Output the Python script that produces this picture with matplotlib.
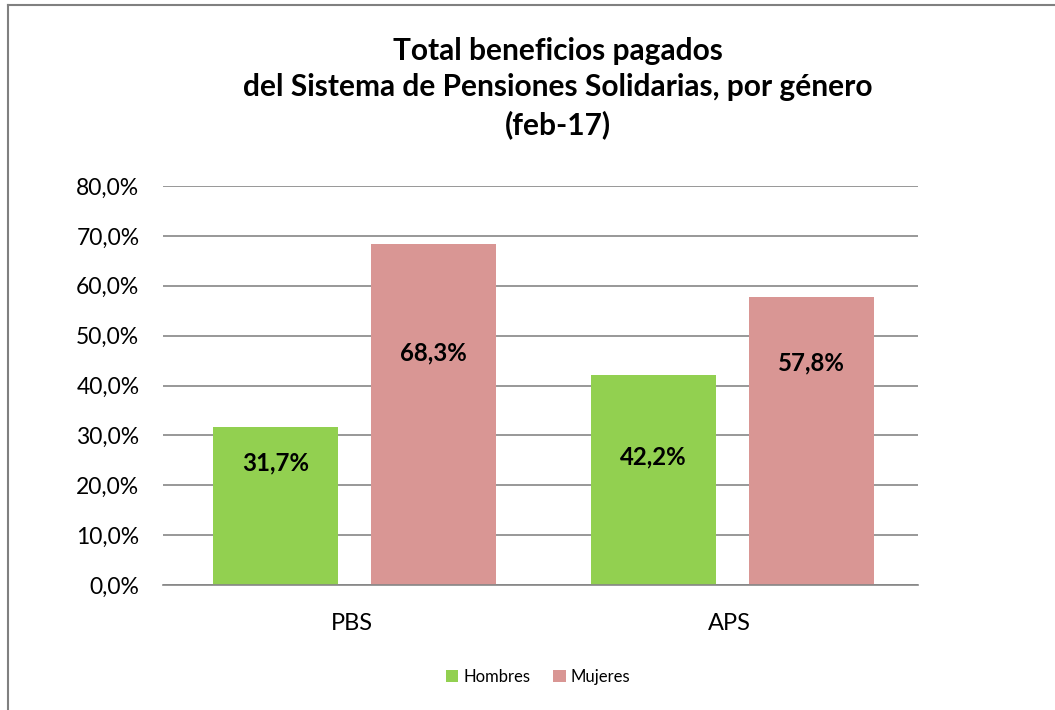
import matplotlib.pyplot as plt
import numpy as np
from matplotlib.lines import Line2D

plt.rcParams["font.family"] = ["Lato", "DejaVu Sans"]

categories = ["PBS", "APS"]
hombres = [31.7, 42.2]
mujeres = [68.3, 57.8]
series_names = ["Hombres", "Mujeres"]
yticks = [0, 10, 20, 30, 40, 50, 60, 70, 80]

# where the data labels sit in the reference (y in axis units)
label_y_hombres = [24.4, 25.7]
label_y_mujeres = [46.6, 44.6]

GREEN = "#92D050"
PINK = "#D99694"


def pct(v):
    return f"{v:.1f}%".replace(".", ",")


def main() -> None:
    fig = plt.figure(figsize=(10.55, 7.1), dpi=100)
    ax = fig.add_axes([163 / 1055, 1 - 585 / 710, (918 - 163) / 1055, (585 - 186) / 710])

    x = np.arange(len(categories))
    w = 0.331
    off = 0.209
    shift = 0.008
    b1 = ax.bar(x - off + shift, hombres, w, color=GREEN, label=series_names[0], zorder=2)
    b2 = ax.bar(x + off + shift, mujeres, w, color=PINK, label=series_names[1], zorder=2)

    for bars, vals, ys in ((b1, hombres, label_y_hombres), (b2, mujeres, label_y_mujeres)):
        for b, v, y in zip(bars, vals, ys):
            ax.text(b.get_x() + b.get_width() / 2, y, pct(v),
                    ha="center", va="center", fontsize=17.3, fontweight="bold",
                    color="black", zorder=3)

    ax.set_xlim(-0.5, 1.5)
    ax.set_ylim(0, 80)
    ax.set_yticks(yticks)
    ax.set_yticklabels([pct(v) for v in yticks], fontsize=16.5)
    ax.set_xticks(x)
    ax.set_xticklabels(categories, fontsize=17)
    ax.tick_params(axis="y", length=0, pad=17)
    ax.tick_params(axis="x", length=0, pad=20)
    ax.yaxis.grid(True, color="#868686", linewidth=1.2, zorder=0)
    for s in ("top", "right", "left"):
        ax.spines[s].set_visible(False)
    ax.spines["bottom"].set_color("#868686")
    ax.spines["bottom"].set_linewidth(1.2)

    fig.text(558 / 1055, 1 - 88 / 710,
             "Total beneficios pagados\ndel Sistema de Pensiones Solidarias, por género\n(feb-17)",
             ha="center", va="center", fontsize=21.5, fontweight="bold",
             linespacing=1.38)

    fig.legend(handles=[b1, b2], labels=series_names, loc="center",
               bbox_to_anchor=(538 / 1055, 1 - 677 / 710), ncol=2, frameon=False,
               fontsize=12, handlelength=0.75, handleheight=0.75,
               handletextpad=0.3, columnspacing=1.4)

    # chart border (only left and top visible in the reference crop)
    fig.add_artist(Line2D([8 / 1055, 8 / 1055], [0, 1 - 4.5 / 710],
                          transform=fig.transFigure, color="#808080", linewidth=1.5))
    fig.add_artist(Line2D([8 / 1055, 1], [1 - 4.5 / 710, 1 - 4.5 / 710],
                          transform=fig.transFigure, color="#808080", linewidth=1.5))

    fig.savefig("out.png", dpi=100)


if __name__ == "__main__":
    main()
